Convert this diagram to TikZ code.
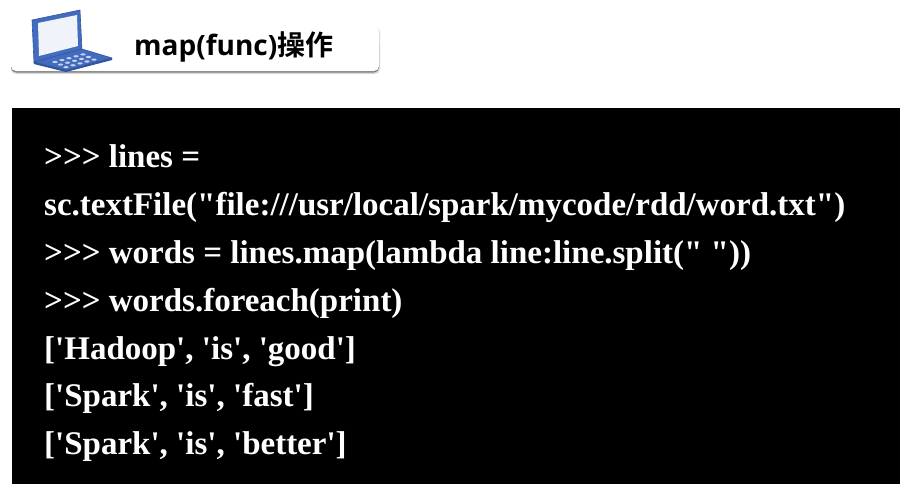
\documentclass[tikz,border=0pt]{standalone}
\usepackage{fontspec}
\setmainfont{Liberation Serif}[Ligatures=TeXOff]
\newfontfamily\cjk{Noto Sans CJK SC}[BoldFont=* Bold]
\newfontfamily\headfont{Open Sans}
\definecolor{lapblue}{RGB}{68,108,190}
\definecolor{lapdark}{RGB}{50,84,160}
\definecolor{lapscreen}{RGB}{240,243,250}
\begin{document}
\begin{tikzpicture}[x=1pt,y=-1pt,
 code/.style={anchor=base west,inner sep=0pt,text=white,font=\fontsize{33}{33}\selectfont\bfseries},
 lapfill/.style={fill=lapblue,draw=lapdark,line width=0.6pt,line join=round}]
\useasboundingbox (0,0) rectangle (912,490);
\fill[white] (0,0) rectangle (912,490);
% title bar
\fill[black!15,rounded corners=5pt] (11,27) rectangle (380,74);
\fill[black!50,rounded corners=5pt] (11,40) rectangle (379,72.5);
\fill[white,rounded corners=5pt] (11,26) rectangle (379,71);
\node[anchor=base west,inner sep=0pt,font=\fontsize{28}{28}\selectfont] (title) at (134,55)
  {\headfont\bfseries map(func)\cjk\bfseries 操作};
% laptop
\path[lapfill] (32,20) -- (80,10) -- (82,50) -- (34,63) -- cycle;
\fill[lapscreen] (38,23) -- (77,15) -- (78,46) -- (39,56) -- cycle;
\path[lapfill] (34,62) -- (82,49) -- (112,58) -- (66,70) -- cycle;
\fill[lapdark] (34,62) -- (66,70) -- (112,58) -- (112,60) -- (66,72) -- (34,64) -- cycle;
\foreach \r in {0,1,2}{\foreach \c in {0,...,4}{
  \fill[white!70!lapblue] ({55+\c*7+\r*5.5},{62-\c*1.9+\r*2.6}) circle[x radius=2.6,y radius=1.1];}}
% code panel
\fill[black] (12,108) rectangle (900,484);
\node[code] (l1) at (44,167) {>>> lines =};
\node[code] (l2) at (44,215) {sc.textFile("file:///usr/local/spark/mycode/rdd/word.txt")};
\node[code] (l3) at (44,263) {>>> words = lines.map(lambda line:line.split(" "))};
\node[code] (l4) at (44,311) {>>> words.foreach(print)};
\node[code] (l5) at (44,359) {['Hadoop', 'is', 'good']};
\node[code] (l6) at (44,406) {['Spark', 'is', 'fast']};
\node[code] (l7) at (44,454) {['Spark', 'is', 'better']};
\end{tikzpicture}
\end{document}
